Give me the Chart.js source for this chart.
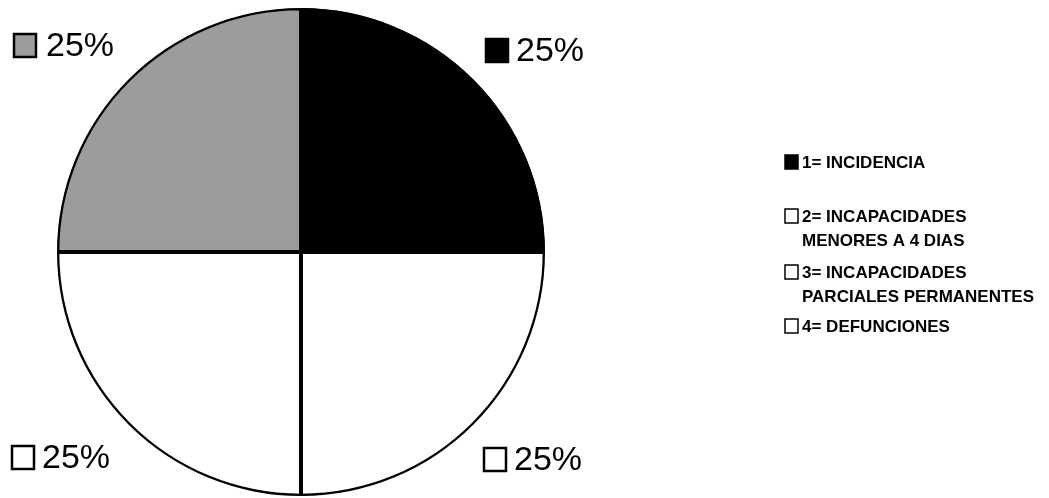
<!DOCTYPE html>
<html><head><meta charset="utf-8">
<script src="https://cdn.jsdelivr.net/npm/chart.js@4"></script>
<style>html,body{margin:0;padding:0;background:#fff}#w{width:1049px;height:498px;position:relative}</style>
</head><body><div id="w"><canvas id="c" width="1049" height="498"></canvas></div>
<script>
const categories = ['1= INCIDENCIA', '2= INCAPACIDADES\nMENORES A 4 DIAS', '3= INCAPACIDADES\nPARCIALES PERMANENTES', '4= DEFUNCIONES'];
const values = [25, 25, 25, 25];
const sliceColors = ['#000000', '#ffffff', '#ffffff', '#9c9c9c'];
const legendColors = ['#000000', '#ffffff', '#ffffff', '#ffffff'];
const labelTexts = values.map(v => v + '%');

const outLabels = {
  id: 'outLabels',
  afterDraw(chart) {
    const ctx = chart.ctx;
    const meta = chart.getDatasetMeta(0);
    ctx.save();
    // percentage labels: [markerX, centerY, textX]
    const pos = [[486, 50, 516], [484, 459, 514], [12, 457, 42], [14, 45, 46]];
    ctx.font = '34px "Liberation Sans", Arial, sans-serif';
    ctx.textBaseline = 'middle';
    ctx.textAlign = 'left';
    meta.data.forEach((arc, i) => {
      const p = pos[i];
      ctx.fillStyle = sliceColors[i];
      ctx.fillRect(p[0], p[1] - 11, 22, 23);
      ctx.strokeStyle = '#000'; ctx.lineWidth = 2.5;
      ctx.strokeRect(p[0], p[1] - 11, 22, 23);
      ctx.fillStyle = '#000';
      ctx.fillText(labelTexts[i], p[2], p[1] + 2);
    });
    // legend
    ctx.font = 'bold 17px "Liberation Sans", Arial, sans-serif';
    const ly = [162, 216, 272, 326];
    categories.forEach((c, i) => {
      const y = ly[i];
      ctx.fillStyle = legendColors[i];
      ctx.fillRect(785, y - 7, 13, 14);
      ctx.strokeStyle = '#000'; ctx.lineWidth = 1.5;
      ctx.strokeRect(785, y - 7, 13, 14);
      ctx.fillStyle = '#000';
      c.split('\n').forEach((line, j) => {
        ctx.fillText(line, 802, y + 1 + j * 24);
      });
    });
    ctx.restore();
  }
};

new Chart(document.getElementById('c'), {
  type: 'pie',
  data: {
    labels: categories,
    datasets: [{
      data: values,
      backgroundColor: sliceColors,
      borderColor: '#000000',
      borderWidth: 2,
      borderAlign: 'inner'
    }]
  },
  options: {
    responsive: false,
    animation: false,
    layout: { padding: { left: 57, top: 8, right: 504, bottom: 2 } },
    plugins: { legend: { display: false }, tooltip: { enabled: false } }
  },
  plugins: [outLabels]
});
</script>
</body></html>
